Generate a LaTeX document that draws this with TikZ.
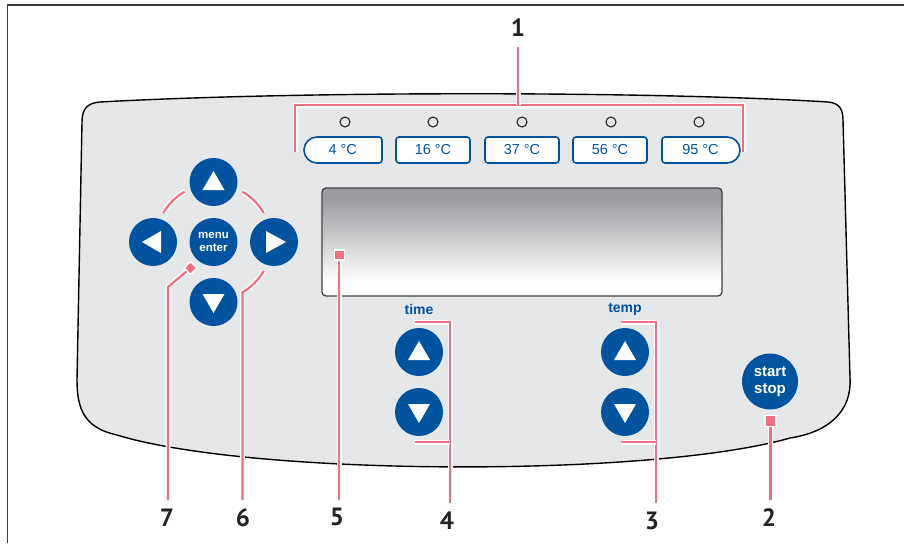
\documentclass[tikz,border=0pt]{standalone}
\usepackage{fontspec}
\setmainfont{Liberation Sans}
\newfontfamily\numfont{PT Sans}
\usetikzlibrary{calc}
\definecolor{kblue}{RGB}{0,84,159}
\definecolor{kpink}{RGB}{240,110,130}
\definecolor{panelc}{RGB}{230,231,233}
\definecolor{lcdgray}{RGB}{155,156,160}
\definecolor{numcol}{RGB}{35,35,35}
\definecolor{framec}{RGB}{60,60,60}
\pgfdeclareverticalshading{lcd}{100bp}{color(0bp)=(white); color(32bp)=(white); color(70bp)=(lcdgray); color(100bp)=(lcdgray)}
\begin{document}
\begin{tikzpicture}[x=1pt,y=-1pt,
  callout/.style={draw=kpink, line width=2.2pt, preaction={draw=white, line width=5pt}},
  rbtn/.style={circle, fill=kblue, minimum size=48pt, inner sep=0pt, text=white, align=center},
  tbtn/.style={draw=kblue, line width=1.6pt, fill=white},
  ttext/.style={text=kblue, font=\fontsize{14.5}{16}\selectfont, inner sep=0pt},
  led/.style={circle, draw=black!85, line width=1.1pt, minimum size=10pt, inner sep=0pt},
  num/.style={font=\numfont\bfseries\fontsize{25}{28}\selectfont, text=numcol, inner sep=0pt},
  marker/.style={rectangle, fill=kpink, draw=white, line width=1.5pt, minimum size=10pt, inner sep=0pt},
  lbl/.style={text=kblue, font=\bfseries\fontsize{14}{16}\selectfont}]
\useasboundingbox (0,0) rectangle (904,543);
% frame
\draw[framec, line width=1.2pt] (7.5,543) -- (7.5,5) -- (904,5);
% panel
\draw[fill=panelc, line width=1.4pt]
  (100,102) .. controls (300,91) and (650,91) .. (828,102)
  .. controls (840,103) and (843,110) .. (843,120)
  -- (850,378)
  .. controls (852,410) and (830,432) .. (790,438)
  .. controls (650,478) and (250,476) .. (117,435)
  .. controls (85,428) and (77,410) .. (77,380)
  -- (82,122)
  .. controls (82,108) and (88,103) .. (100,102) -- cycle;
% display
\shade[shading=lcd, rounded corners=4pt] (322,188) rectangle (722,296);
\draw[draw=black!75, line width=1.3pt, rounded corners=4pt] (322,188) rectangle (722,296);
% LEDs
\node[led] (l1) at (345,122) {};
\node[led] (l2) at (433,122) {};
\node[led] (l3) at (522,122) {};
\node[led] (l4) at (611,122) {};
\node[led] (l5) at (699,122) {};
% callout 1 bracket
\coordinate (b1l) at (295,152);
\coordinate (b1r) at (743,152);
\coordinate (b1m) at (518,105);
\coordinate (b1t) at (518,47);
\draw[callout] (b1l) |- (b1m) -| (b1r);
\draw[callout] (b1t) -- (b1m);
% temperature buttons
\draw[tbtn] (317,137) -- (379,137) arc[start angle=-90, end angle=0, radius=3] -- (382,160)
  arc[start angle=0, end angle=90, radius=3] -- (317,163) arc[start angle=90, end angle=270, radius=13] -- cycle;
\node[ttext] (t1) at (342.7,150) {4 °C};
\node[tbtn, rectangle, rounded corners=3pt, minimum width=74pt, minimum height=26pt, inner sep=0pt] (b2) at (433,150) {};
\node[ttext] (t2) at (b2) {16 °C};
\node[tbtn, rectangle, rounded corners=3pt, minimum width=74pt, minimum height=26pt, inner sep=0pt] (b3) at (522,150) {};
\node[ttext] (t3) at (b3) {37 °C};
\node[tbtn, rectangle, rounded corners=3pt, minimum width=74pt, minimum height=26pt, inner sep=0pt] (b4) at (610,150) {};
\node[ttext] (t4) at (b4) {56 °C};
\draw[tbtn] (665,137) -- (727,137) arc[start angle=-90, end angle=90, radius=13] -- (665,163)
  arc[start angle=90, end angle=180, radius=3] -- (662,140) arc[start angle=180, end angle=270, radius=3] -- cycle;
\node[ttext] (t5) at (700.5,150) {95 °C};
% navigation arcs / callouts 6 and 7
\coordinate (mc) at (213.5,242);
\draw[callout] ($(mc)+(-150:58)$) arc[start angle=-150, end angle=-120, radius=58];
\draw[callout] ($(mc)+(-60:58)$) arc[start angle=-60, end angle=-30, radius=58];
\coordinate (e6) at (242.5,500);
\draw[callout] ($(mc)+(30:58)$) arc[start angle=30, end angle=60, radius=58] -- (e6);
\coordinate (k7) at (168,287);
\coordinate (e7) at (168,500);
\coordinate (d7c) at (190.5,268);
\draw[callout] (d7c) -- (k7) -- (e7);
% navigation buttons
\node[rbtn] (nu) at (213.5,182) {};
\node[rbtn] (nl) at (153,242) {};
\node[rbtn, font=\bfseries\fontsize{11.5}{13}\selectfont] (nm) at (mc) {menu\\enter};
\node[rbtn] (nr) at (274,242) {};
\node[rbtn] (nd) at (213.5,302) {};
\fill[white] ($(nu)+(0,-11)$) -- ($(nu)+(11,8)$) -- ($(nu)+(-11,8)$) -- cycle;
\fill[white] ($(nd)+(0,11)$) -- ($(nd)+(11,-8)$) -- ($(nd)+(-11,-8)$) -- cycle;
\fill[white] ($(nl)+(-11,0)$) -- ($(nl)+(8,-11)$) -- ($(nl)+(8,11)$) -- cycle;
\fill[white] ($(nr)+(12,0)$) -- ($(nr)+(-8,-11)$) -- ($(nr)+(-8,11)$) -- cycle;
\node[marker, rotate=45, minimum size=9pt] (d7) at (d7c) {};
% callout 5
\coordinate (e5) at (339.3,500);
\coordinate (s5c) at (339.3,255);
\draw[callout] (s5c) -- (e5);
\node[marker] (s5) at (s5c) {};
% time / temp
\node[lbl] (time) at (419,309) {time};
\node[lbl] (temp) at (625,309) {temp};
\coordinate (e4) at (450,503);
\coordinate (e3) at (656,503);
\draw[callout] (415,322) -| (e4);
\draw[callout] (415,442) -- (450,442);
\draw[callout] (621,322) -| (e3);
\draw[callout] (621,442) -- (656,442);
\node[rbtn] (tu) at (419,352) {};
\node[rbtn] (td) at (419,412) {};
\node[rbtn] (pu) at (625,352) {};
\node[rbtn] (pd) at (625,412) {};
\foreach \b in {tu,pu} \fill[white] ($(\b)+(0,-11)$) -- ($(\b)+(11,8)$) -- ($(\b)+(-11,8)$) -- cycle;
\foreach \b in {td,pd} \fill[white] ($(\b)+(0,11)$) -- ($(\b)+(11,-8)$) -- ($(\b)+(-11,-8)$) -- cycle;
% start stop
\node[rbtn, minimum size=56pt, font=\bfseries\fontsize{15}{17.5}\selectfont] (ss) at (770,381.5) {start\\stop};
\coordinate (s2c) at (770.5,421);
\coordinate (e2) at (770.5,500);
\draw[callout] (s2c) -- (e2);
\node[marker, minimum size=11pt] (s2) at (s2c) {};
% numbers
\node[num] (n1) at (518,28) {1};
\node[num] (n2) at (769,518) {2};
\node[num] (n3) at (652,521) {3};
\node[num] (n4) at (447,521) {4};
\node[num] (n5) at (337,517) {5};
\node[num] (n6) at (243,518) {6};
\node[num] (n7) at (167,518) {7};
\end{tikzpicture}
\end{document}
